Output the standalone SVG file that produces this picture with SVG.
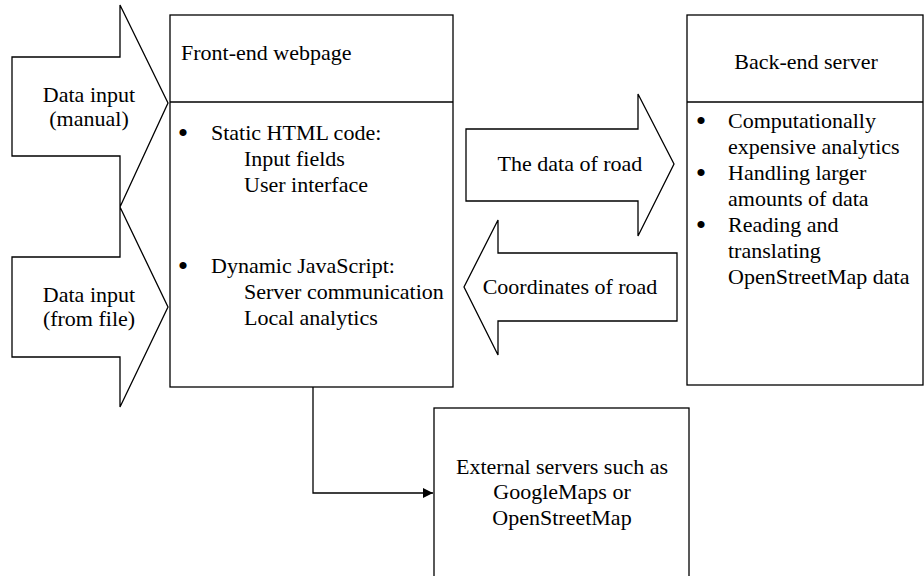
<svg xmlns="http://www.w3.org/2000/svg" width="924" height="576" viewBox="0 0 924 576">
<style>
.s{fill:#fff;stroke:#000;stroke-width:1.3;stroke-linejoin:miter}
.ln{fill:none;stroke:#000;stroke-width:1.3}
text{font-family:"Liberation Serif","Times New Roman",serif;font-size:22px;fill:#000}
.m{text-anchor:middle}
.b{font-size:30px;text-anchor:middle}
</style>
<defs>
<marker id="ah" markerWidth="10" markerHeight="10" refX="10" refY="5" orient="auto" markerUnits="userSpaceOnUse">
<path d="M0,0 L10,5 L0,10 Z" fill="#000"/>
</marker>
</defs>
<rect width="924" height="576" fill="#fff"/>
<g id="input-manual">
<path class="s" d="M12,57 H120 V5 L168,103 L120,207 V156 H12 Z"/>
<text class="m" x="89" y="102">Data input</text>
<text class="m" x="89" y="126">(manual)</text>
</g>
<g id="input-file">
<path class="s" d="M12,257 H120 V207 L168,307 L120,407 V357 H12 Z"/>
<text class="m" x="89" y="302">Data input</text>
<text class="m" x="89" y="326">(from file)</text>
</g>
<g id="front-end">
<rect class="s" x="170" y="15" width="283" height="372"/>
<line class="ln" x1="170" y1="102" x2="453" y2="102"/>
<text x="181" y="60">Front-end webpage</text>
<text class="b" x="183" y="143">•</text>
<text x="211" y="140">Static HTML code:</text>
<text x="244" y="166">Input fields</text>
<text x="244" y="192">User interface</text>
<text class="b" x="183" y="276">•</text>
<text x="211" y="273">Dynamic JavaScript:</text>
<text x="244" y="299">Server communication</text>
<text x="244" y="325">Local analytics</text>
</g>
<g id="data-of-road">
<path class="s" d="M466,129 H638 V94 L674,164 L638,236 V201 H466 Z"/>
<text class="m" x="570" y="171">The data of road</text>
</g>
<g id="coordinates-of-road">
<path class="s" d="M677,253 V321 H498 V355 L464,287 L498,220 V253 Z"/>
<text class="m" x="570" y="294">Coordinates of road</text>
</g>
<g id="back-end">
<rect class="s" x="687" y="15" width="236" height="370"/>
<line class="ln" x1="687" y1="102" x2="923" y2="102"/>
<text class="m" x="806" y="69">Back-end server</text>
<text class="b" x="701" y="131">•</text>
<text x="728" y="128">Computationally</text>
<text x="728" y="154">expensive analytics</text>
<text class="b" x="701" y="183">•</text>
<text x="728" y="180">Handling larger</text>
<text x="728" y="206">amounts of data</text>
<text class="b" x="701" y="235">•</text>
<text x="728" y="232">Reading and</text>
<text x="728" y="258">translating</text>
<text x="728" y="284">OpenStreetMap data</text>
</g>
<g id="external">
<rect class="s" x="434" y="408" width="255" height="190"/>
<text class="m" x="562" y="474">External servers such as</text>
<text class="m" x="562" y="499">GoogleMaps or</text>
<text class="m" x="562" y="525">OpenStreetMap</text>
</g>
<g id="connectors">
<path class="ln" d="M313,387 V493 H433" marker-end="url(#ah)"/>
</g>
</svg>
